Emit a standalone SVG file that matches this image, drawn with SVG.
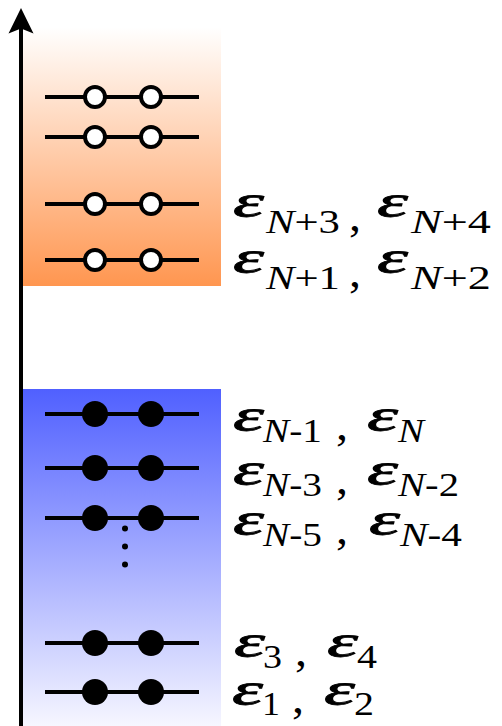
<svg xmlns="http://www.w3.org/2000/svg" width="502" height="726" viewBox="0 0 502 726">
<defs>
<linearGradient id="gOr" x1="0" y1="0" x2="0" y2="1">
<stop offset="0" stop-color="#FFFFFF"/>
<stop offset="1" stop-color="#FF9650"/>
</linearGradient>
<linearGradient id="gBl" x1="0" y1="0" x2="0" y2="1">
<stop offset="0" stop-color="#5060FF"/>
<stop offset="1" stop-color="#F6F6FF"/>
</linearGradient>
<style>
.lv{stroke:#000;stroke-width:4;fill:none}
.oc{fill:#fff;stroke:#000;stroke-width:4}
.fc{fill:#000}
text{font-family:"Liberation Serif",serif;fill:#000}
.e{font-style:italic;font-size:46px;stroke:#000;stroke-width:0.8}
.s{font-size:34px}
.si{font-style:italic}
.c{font-size:44px}
</style>
</defs>
<rect x="21" y="27" width="200" height="259" fill="url(#gOr)"/>
<rect x="21" y="389" width="200" height="337" fill="url(#gBl)"/>
<g id="axis">
<line x1="21" y1="726" x2="21" y2="28" stroke="#000" stroke-width="4"/>
<path d="M21,8 L33.5,33.5 L21,28.5 L8.5,33.5 Z" fill="#000"/>
</g>
<g id="level-o4"><line class="lv" x1="45" y1="97" x2="199" y2="97"/><circle class="oc" cx="95" cy="97" r="10"/><circle class="oc" cx="151" cy="97" r="10"/></g>
<g id="level-o3"><line class="lv" x1="45" y1="137" x2="199" y2="137"/><circle class="oc" cx="95" cy="137" r="10"/><circle class="oc" cx="151" cy="137" r="10"/></g>
<g id="level-o2"><line class="lv" x1="45" y1="204" x2="199" y2="204"/><circle class="oc" cx="95" cy="204" r="10"/><circle class="oc" cx="151" cy="204" r="10"/></g>
<g id="level-o1"><line class="lv" x1="45" y1="260" x2="199" y2="260"/><circle class="oc" cx="95" cy="260" r="10"/><circle class="oc" cx="151" cy="260" r="10"/></g>
<g id="level-b5"><line class="lv" x1="45" y1="414" x2="199" y2="414"/><circle class="fc" cx="95" cy="414" r="13"/><circle class="fc" cx="151" cy="414" r="13"/></g>
<g id="level-b4"><line class="lv" x1="45" y1="468" x2="199" y2="468"/><circle class="fc" cx="95" cy="468" r="13"/><circle class="fc" cx="151" cy="468" r="13"/></g>
<g id="level-b3"><line class="lv" x1="45" y1="518" x2="199" y2="518"/><circle class="fc" cx="95" cy="518" r="13"/><circle class="fc" cx="151" cy="518" r="13"/></g>
<g id="dots"><circle cx="125" cy="528.5" r="3"/><circle cx="125" cy="546.5" r="3"/><circle cx="125" cy="564.5" r="3"/></g>
<g id="level-b2"><line class="lv" x1="45" y1="643" x2="199" y2="643"/><circle class="fc" cx="95" cy="643" r="13"/><circle class="fc" cx="151" cy="643" r="13"/></g>
<g id="level-b1"><line class="lv" x1="45" y1="692" x2="199" y2="692"/><circle class="fc" cx="95" cy="692" r="13"/><circle class="fc" cx="151" cy="692" r="13"/></g>

<g id="label-o2">
<text class="e" x="233" y="217" textLength="31" lengthAdjust="spacingAndGlyphs">ε</text>
<text class="s" x="266" y="233" textLength="74" lengthAdjust="spacingAndGlyphs"><tspan class="si">N</tspan>+3</text>
<text class="c" x="349" y="231" textLength="12" lengthAdjust="spacingAndGlyphs">,</text>
<text class="e" x="377" y="217" textLength="31" lengthAdjust="spacingAndGlyphs">ε</text>
<text class="s" x="411" y="233" textLength="80" lengthAdjust="spacingAndGlyphs"><tspan class="si">N</tspan>+4</text>
</g>
<g id="label-o1">
<text class="e" x="233" y="273" textLength="31" lengthAdjust="spacingAndGlyphs">ε</text>
<text class="s" x="266" y="289" textLength="74" lengthAdjust="spacingAndGlyphs"><tspan class="si">N</tspan>+1</text>
<text class="c" x="349" y="287" textLength="12" lengthAdjust="spacingAndGlyphs">,</text>
<text class="e" x="377" y="273" textLength="31" lengthAdjust="spacingAndGlyphs">ε</text>
<text class="s" x="411" y="289" textLength="80" lengthAdjust="spacingAndGlyphs"><tspan class="si">N</tspan>+2</text>
</g>
<g id="label-b5">
<text class="e" x="233" y="431" textLength="31" lengthAdjust="spacingAndGlyphs">ε</text>
<text class="s" x="263" y="442" textLength="59" lengthAdjust="spacingAndGlyphs"><tspan class="si">N</tspan>-1</text>
<text class="c" x="336" y="440" textLength="12" lengthAdjust="spacingAndGlyphs">,</text>
<text class="e" x="367" y="431" textLength="31" lengthAdjust="spacingAndGlyphs">ε</text>
<text class="s si" x="398" y="442" textLength="26" lengthAdjust="spacingAndGlyphs">N</text>
</g>
<g id="label-b4">
<text class="e" x="233" y="485" textLength="31" lengthAdjust="spacingAndGlyphs">ε</text>
<text class="s" x="263" y="496" textLength="59" lengthAdjust="spacingAndGlyphs"><tspan class="si">N</tspan>-3</text>
<text class="c" x="336" y="494" textLength="12" lengthAdjust="spacingAndGlyphs">,</text>
<text class="e" x="367" y="485" textLength="31" lengthAdjust="spacingAndGlyphs">ε</text>
<text class="s" x="398" y="496" textLength="61" lengthAdjust="spacingAndGlyphs"><tspan class="si">N</tspan>-2</text>
</g>
<g id="label-b3">
<text class="e" x="233" y="535" textLength="31" lengthAdjust="spacingAndGlyphs">ε</text>
<text class="s" x="263" y="546" textLength="59" lengthAdjust="spacingAndGlyphs"><tspan class="si">N</tspan>-5</text>
<text class="c" x="336" y="544" textLength="12" lengthAdjust="spacingAndGlyphs">,</text>
<text class="e" x="369" y="535" textLength="31" lengthAdjust="spacingAndGlyphs">ε</text>
<text class="s" x="400" y="546" textLength="62" lengthAdjust="spacingAndGlyphs"><tspan class="si">N</tspan>-4</text>
</g>
<g id="label-b2">
<text class="e" x="234" y="657" textLength="31" lengthAdjust="spacingAndGlyphs">ε</text>
<text class="s" x="263" y="668" textLength="19" lengthAdjust="spacingAndGlyphs">3</text>
<text class="c" x="295" y="666" textLength="12" lengthAdjust="spacingAndGlyphs">,</text>
<text class="e" x="327" y="657" textLength="31" lengthAdjust="spacingAndGlyphs">ε</text>
<text class="s" x="357" y="668" textLength="20" lengthAdjust="spacingAndGlyphs">4</text>
</g>
<g id="label-b1">
<text class="e" x="232" y="705" textLength="31" lengthAdjust="spacingAndGlyphs">ε</text>
<text class="s" x="262" y="715" textLength="18" lengthAdjust="spacingAndGlyphs">1</text>
<text class="c" x="292" y="713" textLength="12" lengthAdjust="spacingAndGlyphs">,</text>
<text class="e" x="324" y="705" textLength="31" lengthAdjust="spacingAndGlyphs">ε</text>
<text class="s" x="354" y="715" textLength="20" lengthAdjust="spacingAndGlyphs">2</text>
</g>
</svg>
